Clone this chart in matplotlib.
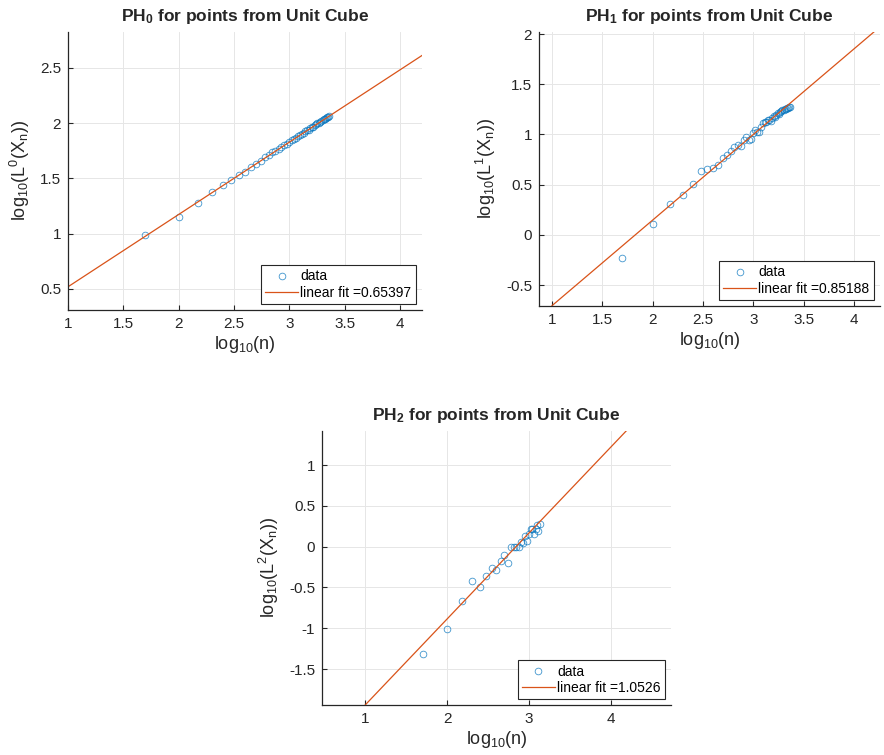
import matplotlib
matplotlib.use("Agg")
import matplotlib.pyplot as plt
import numpy as np

# MATLAB-like look
plt.rcParams['font.family'] = ['Liberation Sans', 'DejaVu Sans']
plt.rcParams['mathtext.fontset'] = 'custom'
plt.rcParams['mathtext.rm'] = 'Liberation Sans'
plt.rcParams['mathtext.it'] = 'Liberation Sans'
plt.rcParams['mathtext.bf'] = 'Liberation Sans:bold'
plt.rcParams['mathtext.default'] = 'regular'

# number of points n
n_list = [50, 100, 150, 200, 250, 300, 350, 400, 450, 500,
          550, 600, 650, 700, 750, 800, 850, 900, 950, 1000,
          1050, 1100, 1150, 1200, 1250, 1300, 1350, 1400, 1450, 1500,
          1550, 1600, 1650, 1700, 1750, 1800, 1850, 1900, 1950, 2000,
          2050, 2100, 2150, 2200, 2250, 2300]

# log10(L^k(X_n))
ph0 = [0.99, 1.15, 1.28, 1.375, 1.44, 1.49, 1.535, 1.56, 1.60, 1.635,
       1.66, 1.69, 1.71, 1.735, 1.745, 1.77, 1.785, 1.80, 1.81, 1.83,
       1.845, 1.86, 1.865, 1.885, 1.895, 1.905, 1.915, 1.925, 1.935, 1.94,
       1.955, 1.965, 1.97, 1.98, 1.99, 2.0, 2.005, 2.015, 2.02, 2.03,
       2.035, 2.04, 2.05, 2.055, 2.06, 2.065]
ph1 = [-0.23, 0.11, 0.31, 0.40, 0.51, 0.635, 0.66, 0.665, 0.70, 0.77,
       0.79, 0.83, 0.875, 0.89, 0.885, 0.94, 0.975, 0.945, 0.955, 1.01,
       1.04, 1.02, 1.025, 1.07, 1.11, 1.12, 1.125, 1.14, 1.14, 1.135,
       1.165, 1.18, 1.175, 1.19, 1.21, 1.205, 1.225, 1.235, 1.24, 1.245,
       1.255, 1.25, 1.265, 1.26, 1.27, 1.275]
ph2 = [-1.32, -1.01, -0.66, -0.42, -0.50, -0.36, -0.26, -0.29, -0.17, -0.105,
       -0.205, 0.0, 0.0, -0.01, -0.01, 0.06, 0.04, 0.13, 0.065, 0.16,
       0.22, 0.22, 0.16, 0.22, 0.26, 0.19, 0.275]

# fitted lines (slope shown in legend, intercept)
slopes = [0.65397, 0.85188, 1.0526]
intercepts = [-0.134, -1.557, -2.99]
fit_x = [1.0, 4.2]

series = [ph0, ph1, ph2]
dims = [0, 1, 2]

W, H = 884, 755
fig = plt.figure(figsize=(W / 100, H / 100), dpi=100)

# axes boxes in pixels: left, right, top, bottom
boxes = [(68, 422, 32, 310), (539, 880, 32, 306), (322, 671, 431, 705)]
xlims = [(1.0, 4.2), (0.87, 4.26), (0.47, 4.735)]
ylims = [(0.31, 2.825), (-0.709, 2.02), (-1.94, 1.417)]
xticks = [np.arange(1, 4.01, 0.5), np.arange(1, 4.01, 0.5), [1, 2, 3, 4]]
yticks = [np.arange(0.5, 2.51, 0.5), np.arange(-0.5, 2.01, 0.5), np.arange(-1.5, 1.01, 0.5)]

blue = '#0072BD'
orange = '#D95319'

for i in range(3):
    l, r, t, b = boxes[i]
    ax = fig.add_axes([l / W, 1 - b / H, (r - l) / W, (b - t) / H])
    y = series[i]
    x = np.log10(n_list[:len(y)])
    ax.plot(x, y, 'o', ms=4.8, mfc='none', mec=blue, mew=0.6, alpha=0.75, label='data')
    fx = np.array(fit_x)
    ax.plot(fx, slopes[i] * fx + intercepts[i], '-', color=orange, lw=0.9,
            label='linear fit =%g' % slopes[i])
    ax.set_xlim(*xlims[i])
    ax.set_ylim(*ylims[i])
    ax.set_xticks(xticks[i])
    ax.set_yticks(yticks[i])
    ax.set_xticklabels(['%g' % v for v in xticks[i]])
    ax.set_yticklabels(['%g' % v for v in yticks[i]])
    ax.grid(True, color='#e6e6e6', lw=0.7)
    ax.set_axisbelow(True)
    for s in ['top', 'right']:
        ax.spines[s].set_visible(False)
    for s in ['left', 'bottom']:
        ax.spines[s].set_color('#262626')
        ax.spines[s].set_linewidth(0.9)
    ax.tick_params(direction='in', length=3.5, width=0.8, labelsize=11,
                   colors='#262626', labelcolor='#262626', pad=5)
    ax.set_xlabel('log$_{10}$(n)', fontsize=13, color='#262626', labelpad=2)
    ax.set_ylabel('log$_{10}$(L$^{%d}$(X$_n$))' % dims[i], fontsize=13,
                  color='#262626', labelpad=6)
    ax.set_title('PH$_{%d}$ for points from Unit Cube' % dims[i], fontsize=12.5,
                 fontweight='bold', color='#262626', pad=8)
    leg = ax.legend(loc='lower right', fontsize=10, frameon=True, fancybox=False,
                    edgecolor='#262626', framealpha=1, borderpad=0.3,
                    labelspacing=0.15, handlelength=2.4, handletextpad=0.15,
                    borderaxespad=0.45)
    leg.get_frame().set_linewidth(0.8)

fig.savefig('out.png', dpi=100)
